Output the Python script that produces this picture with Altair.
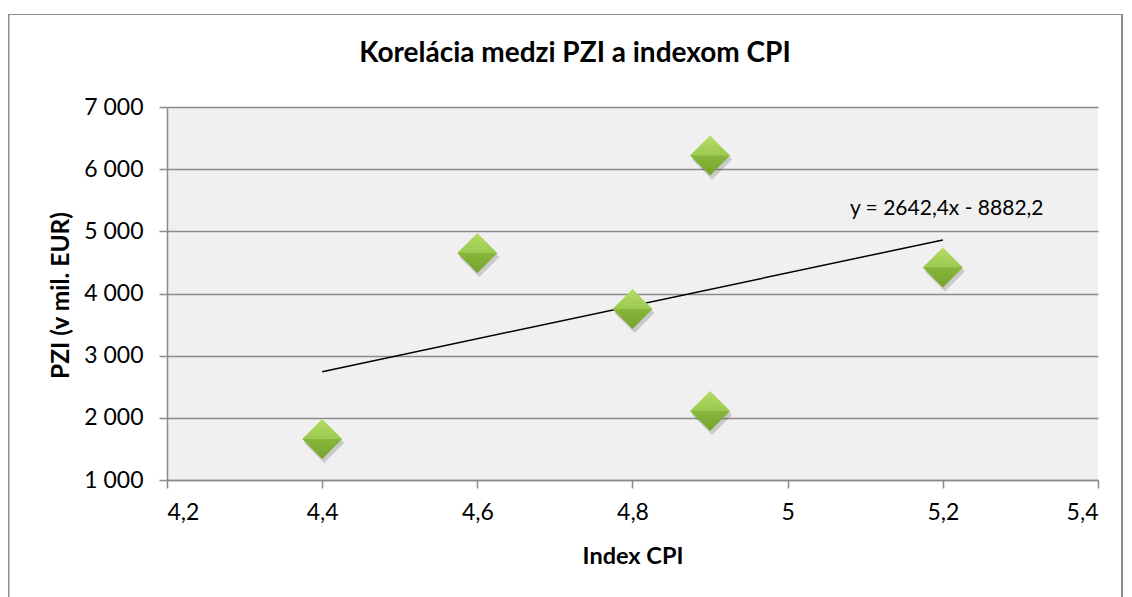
import altair as alt
import pandas as pd

# data
cpi = [4.4, 4.6, 4.8, 4.9, 4.9, 5.2]
pzi = [1660, 4650, 3750, 6220, 2110, 4420]
x_ticks = [4.2, 4.4, 4.6, 4.8, 5.0, 5.2, 5.4]
y_ticks = [1000, 2000, 3000, 4000, 5000, 6000, 7000]
title_text = "Korelácia medzi PZI a indexom CPI"
equation = "y = 2642,4x - 8882,2"
eq_pos_x = [5.205]
eq_pos_y = [5260]

df = pd.DataFrame({"cpi": cpi, "pzi": pzi})
eq_df = pd.DataFrame({"cpi": eq_pos_x, "pzi": eq_pos_y, "label": [equation]})
title_df = pd.DataFrame({"label": [title_text]})

FONT = "Lato"
GRID = "#8a8a8a"

xscale = alt.Scale(domain=[4.2, 5.4], nice=False, zero=False)
yscale = alt.Scale(domain=[1000, 7000], nice=False, zero=False)

xenc = alt.X(
    "cpi:Q", scale=xscale,
    axis=alt.Axis(
        values=x_ticks, grid=False, title="Index CPI",
        labelExpr="replace('' + round(datum.value*10)/10, '.', ',')",
        labelFont=FONT, labelFontSize=23, labelColor="black", labelPadding=13,
        tickSize=8, tickColor=GRID, tickWidth=1.5, domainColor=GRID, domainWidth=1.5,
        titleFont=FONT, titleFontSize=23.5, titleFontWeight="bold", titleColor="black",
        titleX=465.5, titleY=76, titleBaseline="middle", titleAlign="center",
    ),
)
yenc = alt.Y(
    "pzi:Q", scale=yscale,
    axis=alt.Axis(
        values=y_ticks, grid=True, gridColor=GRID, gridWidth=1.5, title="PZI (v mil. EUR)",
        labelExpr="replace(format(datum.value, ','), ',', ' ')",
        labelFont=FONT, labelFontSize=23, labelColor="black", labelPadding=16,
        tickSize=8, tickColor=GRID, tickWidth=1.5, domainColor=GRID, domainWidth=1.5,
        titleFont=FONT, titleFontSize=24.5, titleFontWeight="bold", titleColor="black",
        titleX=-106, titleY=188, titleBaseline="middle", titleAlign="center", titleAngle=-90,
    ),
)

border = alt.Chart(df).mark_rect(
    fill="white", fillOpacity=0, stroke="#8c8c8c", strokeWidth=1.2
).encode(
    x=alt.value(-158.5), x2=alt.value(955), y=alt.value(-92.5), y2=alt.value(600)
)

title = alt.Chart(title_df).mark_text(
    font=FONT, fontSize=28, fontWeight="bold", color="black",
    align="center", baseline="alphabetic",
).encode(x=alt.value(408), y=alt.value(-45), text="label:N")

shadow = alt.Chart(df).mark_point(
    shape="diamond", filled=True, size=1600, color="#000000", opacity=0.16,
    xOffset=2, yOffset=4,
).encode(x=xenc, y=yenc)

grad = alt.LinearGradient(
    gradient="linear",
    stops=[
        alt.GradientStop(color="#b5dd66", offset=0),
        alt.GradientStop(color="#9cc94f", offset=0.49),
        alt.GradientStop(color="#88b63c", offset=0.51),
        alt.GradientStop(color="#76a22c", offset=1),
    ],
    x1=0, x2=0, y1=0, y2=1,
)

points = alt.Chart(df).mark_point(
    shape="diamond", filled=True, size=1600, fill=grad, opacity=1, strokeWidth=0
).encode(x=xenc, y=yenc)

trend = alt.Chart(df).transform_regression(
    "cpi", "pzi", extent=[4.4, 5.2]
).mark_line(color="black", strokeWidth=1.5).encode(x=xenc, y=yenc)

eq = alt.Chart(eq_df).mark_text(
    font=FONT, fontSize=21, color="black", align="center", baseline="alphabetic"
).encode(x=xenc, y=yenc, text="label:N")

chart = alt.layer(border, title, trend, shadow, points, eq).properties(
    width=931, height=373,
    autosize=alt.AutoSizeParams(type="none"),
    padding={"left": 159, "top": 99, "right": 26, "bottom": 117},
).configure_view(fill="#f0f0f0", stroke=None)

chart.save("out.html", embed_options={"renderer": "svg", "actions": False})
